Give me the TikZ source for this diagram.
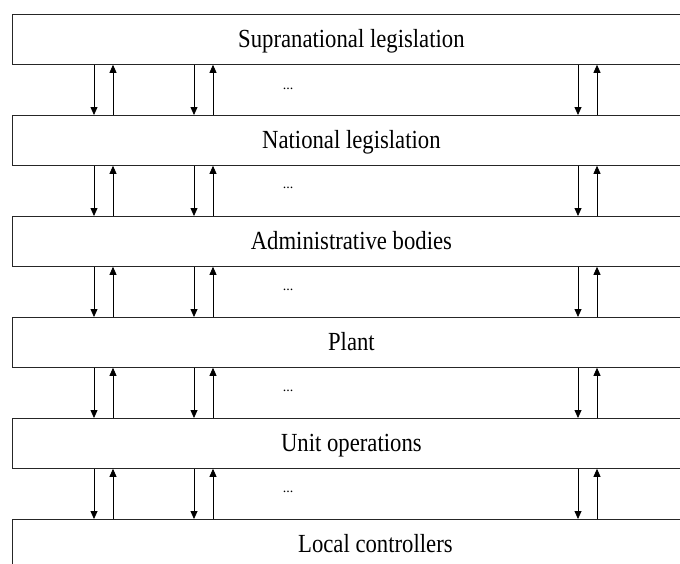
\documentclass[tikz,border=0pt]{standalone}
\usepackage{fontspec}
\setmainfont{Liberation Serif}
\usetikzlibrary{arrows.meta}
\newcommand{\tallify}[1]{\scalebox{1}[1.15]{#1}}
\begin{document}
\begin{tikzpicture}[x=1pt,y=-1pt,
  layer/.style={draw=black!85, line width=0.8pt, minimum width=678pt, minimum height=50pt, inner sep=0pt, anchor=north west, text height=16pt, text depth=0pt, font=\fontsize{22.7}{26}\selectfont},
  flow/.style={draw=black, line width=0.8pt, -{Triangle[length=8pt,width=7pt]}},
  gapdots/.style={inner sep=0pt, font=\fontsize{14}{16}\selectfont}]
\useasboundingbox (0,0) rectangle (680,563);
\clip (0,0) rectangle (680,563);
\fill[white] (0,0) rectangle (680,563);
\node[layer] (b1) at (12,14) {\tallify{Supranational legislation}};
\node[layer] (b2) at (12,115) {\tallify{National legislation}};
\node[layer] (b3) at (12,216) {\tallify{Administrative bodies}};
\node[layer] (b4) at (12,317) {\tallify{Plant}};
\node[layer] (b5) at (12,418) {\tallify{Unit operations}};
\node[layer, minimum width=726pt] (b6) at (12,519) {\tallify{Local controllers}};
\coordinate (xd1) at (94,0);
\coordinate (xu1) at (113,0);
\coordinate (xd2) at (194,0);
\coordinate (xu2) at (213,0);
\coordinate (xd3) at (578,0);
\coordinate (xu3) at (597,0);
\foreach \i/\j/\y in {1/2/89,2/3/188,3/4/290,4/5/391,5/6/492} {
  \foreach \k in {1,2,3} {
    \draw[flow] (xd\k |- b\i.south) -- (xd\k |- b\j.north);
    \draw[flow] (xu\k |- b\j.north) -- (xu\k |- b\i.south);
  }
  \node[gapdots] (d\i) at (288,\y) {...};
}
\end{tikzpicture}
\end{document}
